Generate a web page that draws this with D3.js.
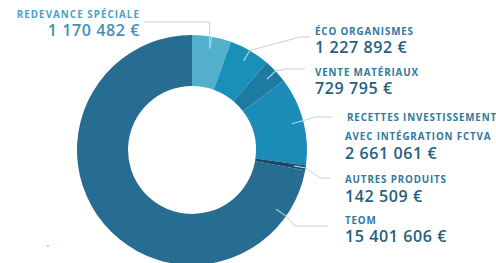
<!DOCTYPE html>
<html>
<head>
<meta charset="utf-8">
<script src="https://cdn.jsdelivr.net/npm/d3@7"></script>
<style>
  html, body { margin: 0; padding: 0; background: #fff; }
  svg { display: block; }
</style>
</head>
<body>
<div id="chart"></div>
<script>
// recettes, in euros, clockwise from 12 o'clock
const categories = ['Redevance spéciale', 'Éco organismes', 'Vente matériaux',
  'Recettes investissement avec intégration FCTVA', 'Autres produits', 'TEOM']
const values = [1170482, 1227892, 729795, 2661061, 142509, 15401606]
const labelLines = [
  ['REDEVANCE SPÉCIALE'],
  ['ÉCO ORGANISMES'],
  ['VENTE MATÉRIAUX'],
  ['RECETTES INVESTISSEMENT', 'AVEC INTÉGRATION FCTVA'],
  ['AUTRES PRODUITS'],
  ['TEOM'],
]
const valueLabels = ['1 170 482 €', '1 227 892 €', '729 795 €', '2 661 061 €', '142 509 €', '15 401 606 €']
const colors = ['#52b0cc', '#1a90b8', '#1d7aa0', '#1b8cb8', '#16496a', '#276d92']

const width = 496, height = 263
const cx = 192, cy = 150
const outerR = 115, innerR = 64

// where each label block sits (layout only)
const layout = [
  { x: 140, anchor: 'end',   y: 17.5, elbow: null,      endX: 144, lineY: 22 },
  { x: 315, anchor: 'start', y: 34.5, elbow: [300, 37], endX: 310 },
  { x: 315, anchor: 'start', y: 75.5, elbow: [287, 69], endX: 305 },
  { x: 347, anchor: 'start', y: 121,  elbow: [315, 117], endX: 332, dx2: -2 },
  { x: 345, anchor: 'start', y: 183,  elbow: [320, 178], endX: 330 },
  { x: 345, anchor: 'start', y: 223.5, elbow: [295, 226], endX: 328 },
]

const svg = d3.select('#chart').append('svg')
  .attr('width', width)
  .attr('height', height)

const pie = d3.pie().sort(null).value(d => d)
const arcs = pie(values)
const arc = d3.arc().innerRadius(innerR).outerRadius(outerR)

const g = svg.append('g').attr('transform', `translate(${cx},${cy})`)

g.selectAll('path.slice')
  .data(arcs)
  .join('path')
  .attr('class', 'slice')
  .attr('d', arc)
  .attr('fill', (d, i) => colors[i])

// anchor angle for each leader: slice middle, but not too far into big slices
const anchorAngle = d => Math.min((d.startAngle + d.endAngle) / 2, d.startAngle + 25 * Math.PI / 180)
const pt = (a, r) => [cx + r * Math.sin(a), cy - r * Math.cos(a)]

const leaders = svg.append('g')
arcs.forEach((d, i) => {
  const L = layout[i]
  const a = anchorAngle(d)
  const inner = pt(a, 103)
  const edge = pt(a, outerR)
  const pts = L.elbow
    ? [edge, L.elbow, [L.endX, L.elbow[1]]]
    : [inner, [inner[0], L.lineY], [L.endX, L.lineY]]
  leaders.append('path')
    .attr('d', d3.line()(pts))
    .attr('fill', 'none')
    .attr('stroke', '#c7cfd5')
    .attr('stroke-width', 1)
  // light tick inside the ring
  leaders.append('line')
    .attr('x1', inner[0]).attr('y1', inner[1])
    .attr('x2', edge[0]).attr('y2', edge[1])
    .attr('stroke', '#9fd6ea')
    .attr('stroke-width', 1.2)
})

const font = '"Open Sans", "DejaVu Sans", sans-serif'
const labels = svg.append('g')
labelLines.forEach((lines, i) => {
  const L = layout[i]
  const first = i === 0
  lines.forEach((t, j) => {
    labels.append('text')
      .attr('x', L.x + (j > 0 && L.dx2 ? L.dx2 : 0))
      .attr('y', L.y + j * 19)
      .attr('text-anchor', L.anchor)
      .attr('font-family', font)
      .attr('font-weight', 700)
      .attr('font-size', 9.8)
      .attr('letter-spacing', first ? 1.05 : 0.85)
      .attr('fill', first ? '#4aa3c2' : '#2f7a9d')
      .text(t)
  })
  labels.append('text')
    .attr('x', L.x + (lines.length > 1 && L.dx2 ? L.dx2 : 0))
    .attr('y', L.y + (lines.length - 1) * 19 + 18.5)
    .attr('text-anchor', L.anchor)
    .attr('font-family', font)
    .attr('font-weight', 600)
    .attr('font-size', 16)
    .attr('letter-spacing', 0.6)
    .attr('fill', first ? '#3f93b2' : '#25607f')
    .text(valueLabels[i])
})

// stray mark bottom-left
svg.append('text')
  .attr('x', 47).attr('y', 246)
  .attr('font-family', font)
  .attr('font-size', 8)
  .attr('fill', '#555')
  .text(',')
</script>
</body>
</html>
